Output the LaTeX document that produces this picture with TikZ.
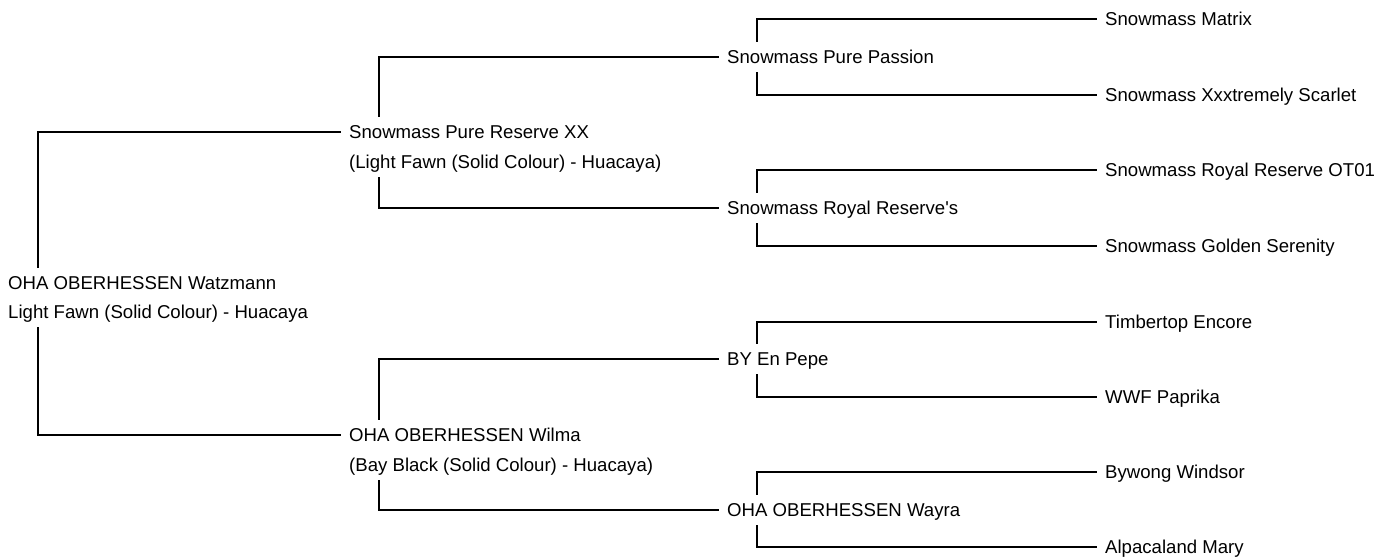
\documentclass[tikz,border=0pt]{standalone}
\usepackage{fontspec}
\setmainfont{Liberation Sans}[Ligatures=TeXOff]

\begin{document}
\begin{tikzpicture}[x=1pt,y=-1pt,
  animal/.style={anchor=west,inner xsep=8pt,inner ysep=8.5pt,text height=13.4pt,text depth=0pt,
    font=\fontsize{18.6}{22}\selectfont},
  link/.style={line width=1.2pt}]

  \useasboundingbox (0,0) rectangle (1381,558);

  % generation 0
  \node[animal] (watz) at (0,283) {OHA OBERHESSEN Watzmann};
  \node[animal] (watzc) at (0,312) {Light Fawn (Solid Colour) - Huacaya};

  % generation 1
  \node[animal] (spr) at (341,132) {Snowmass Pure Reserve XX};
  \node[animal] (sprc) at (341,162) {(Light Fawn (Solid Colour) - Huacaya)};
  \node[animal] (wilma) at (341,435) {OHA OBERHESSEN Wilma};
  \node[animal] (wilmac) at (341,465) {(Bay Black (Solid Colour) - Huacaya)};

  % generation 2
  \node[animal] (spp) at (719,57) {Snowmass Pure Passion};
  \node[animal] (srr) at (719,208) {Snowmass Royal Reserve's};
  \node[animal] (bep) at (719,359) {BY En Pepe};
  \node[animal] (wayra) at (719,510) {OHA OBERHESSEN Wayra};

  % generation 3
  \node[animal] (smx) at (1097,19) {Snowmass Matrix};
  \node[animal] (sxs) at (1097,95) {Snowmass Xxxtremely Scarlet};
  \node[animal] (sro) at (1097,170) {Snowmass Royal Reserve OT01};
  \node[animal] (sgs) at (1097,246) {Snowmass Golden Serenity};
  \node[animal] (tte) at (1097,322) {Timbertop Encore};
  \node[animal] (wwf) at (1097,397) {WWF Paprika};
  \node[animal] (byw) at (1097,472) {Bywong Windsor};
  \node[animal] (alm) at (1097,547) {Alpacaland Mary};

  \draw[link] ([xshift=38pt]watz.north west) |- (spr.west);
  \draw[link] ([xshift=38pt]watzc.south west) |- (wilma.west);

  \draw[link] ([xshift=38pt]spr.north west) |- (spp.west);
  \draw[link] ([xshift=38pt]sprc.south west) |- (srr.west);
  \draw[link] ([xshift=38pt]wilma.north west) |- (bep.west);
  \draw[link] ([xshift=38pt]wilmac.south west) |- (wayra.west);

  \draw[link] ([xshift=38pt]spp.north west) |- (smx.west);
  \draw[link] ([xshift=38pt]spp.south west) |- (sxs.west);
  \draw[link] ([xshift=38pt]srr.north west) |- (sro.west);
  \draw[link] ([xshift=38pt]srr.south west) |- (sgs.west);
  \draw[link] ([xshift=38pt]bep.north west) |- (tte.west);
  \draw[link] ([xshift=38pt]bep.south west) |- (wwf.west);
  \draw[link] ([xshift=38pt]wayra.north west) |- (byw.west);
  \draw[link] ([xshift=38pt]wayra.south west) |- (alm.west);

\end{tikzpicture}
\end{document}
